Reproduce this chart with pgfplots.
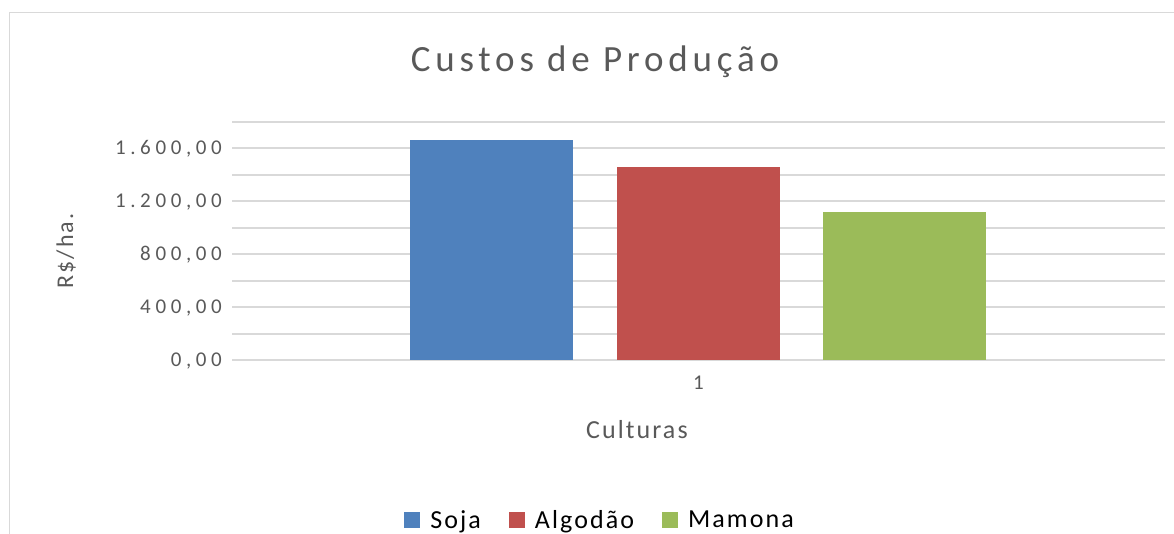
\documentclass[border=0pt]{standalone}
\usepackage{fontspec}
\setmainfont{Carlito}
\newfontfamily\tickfont[LetterSpace=22]{Carlito}
\newfontfamily\labfont[LetterSpace=8]{Carlito}
\newfontfamily\titfont[LetterSpace=13]{Carlito}
\usepackage{pgfplots}
\pgfplotsset{compat=1.18}
\definecolor{soja}{HTML}{4F81BD}
\definecolor{algodao}{HTML}{C0504D}
\definecolor{mamona}{HTML}{9BBB59}
\definecolor{gridc}{HTML}{D9D9D9}
\definecolor{txt}{HTML}{595959}
\begin{document}
\begin{tikzpicture}[x=1pt,y=1pt]
\useasboundingbox (0,0) rectangle (1174,533);
\draw[gridc, line width=1.5pt] (9.5,-5) -- (9.5,520.3) -- (1180,520.3);
\begin{axis}[
  at={(232pt,173pt)}, anchor=south west,
  scale only axis, width=933pt, height=238pt,
  xmin=0.5, xmax=1.5, ymin=0, ymax=1800,
  axis line style={draw=none},
  major tick length=0pt, minor tick length=0pt,
  xtick={1}, xticklabels={1},
  ytick={0,400,800,1200,1600},
  yticklabels={{0,00},{400,00},{800,00},{1.200,00},{1.600,00}},
  minor ytick={200,600,1000,1400,1800},
  ymajorgrids, yminorgrids,
  major grid style={gridc, line width=2pt},
  minor grid style={gridc, line width=2pt},
  yticklabel style={font=\tickfont\fontsize{21}{23}\selectfont, text=txt, anchor=base east, inner sep=0pt, xshift=-10pt, yshift=-6.4pt},
  xticklabel style={font=\labfont\fontsize{21}{23}\selectfont, text=txt, anchor=base, inner sep=0pt, yshift=-29.5pt},
  title={Custos de Produção},
  title style={at={(axis description cs:0.389,1.185)}, anchor=base, font=\titfont\fontsize{37}{40}\selectfont, text=txt, inner sep=0pt},
  xlabel={Culturas},
  xlabel style={at={(axis description cs:0.434,-0.328)}, anchor=base, font=\labfont\fontsize{26}{28}\selectfont, text=txt, inner sep=0pt},
  ylabel={R\$/ha.},
  ylabel style={at={(axis description cs:-0.1704,0.458)}, anchor=base, rotate=0, font=\labfont\fontsize{24}{26}\selectfont, text=txt, inner sep=0pt},
  legend style={at={(axis description cs:0.3945,-0.672)}, anchor=center, draw=none, fill=none,
    legend columns=-1, font=\labfont\fontsize{26}{28}\selectfont, text=black,
    inner sep=0pt, outer sep=0pt,
    /tikz/every odd column/.append style={column sep=8pt},
    /tikz/every even column/.append style={column sep=26pt}},
  legend image code/.code={\fill[#1,draw=none] (0pt,-8pt) rectangle (16pt,8pt);},
  legend cell align=left,
]
\addplot[ybar, fill=soja, draw=none, bar width=0.1747, bar shift=-0.2219] coordinates {(1,1663)};
\addplot[ybar, fill=algodao, draw=none, bar width=0.1747, bar shift=0] coordinates {(1,1461)};
\addplot[ybar, fill=mamona, draw=none, bar width=0.1747, bar shift=0.2208] coordinates {(1,1117)};
\legend{Soja,Algodão,Mamona}
\end{axis}
\end{tikzpicture}
\end{document}
